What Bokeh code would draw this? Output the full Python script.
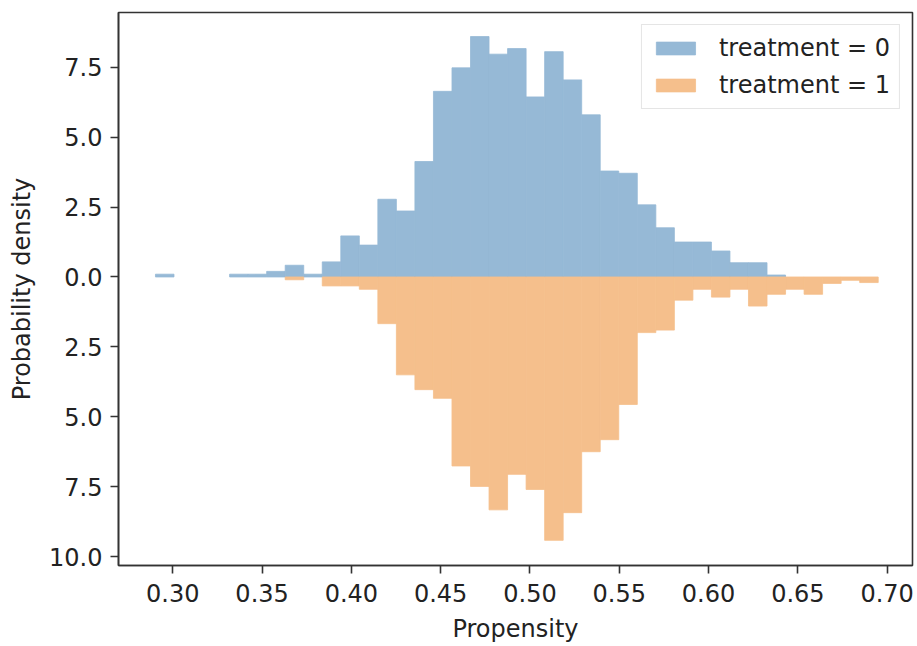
import numpy as np
from bokeh.plotting import figure
from bokeh.models import Range1d, FixedTicker, NumeralTickFormatter, CustomJSTickFormatter, ColumnDataSource
from bokeh.embed import file_html
from bokeh.resources import INLINE

# Histogram bins (shared by both groups)
bin_first = 0.2903
bin_last = 0.6950
n_bins = 39

# Density per bin, treatment = 0 (drawn upward)
density_t0 = [0.10, 0.00, 0.00, 0.00, 0.10, 0.10, 0.20, 0.42, 0.10, 0.54,
              1.47, 1.14, 2.78, 2.36, 4.13, 6.64, 7.48, 8.60, 7.97, 8.17,
              6.44, 8.06, 7.05, 5.80, 3.79, 3.71, 2.58, 1.76, 1.25, 1.25,
              0.93, 0.51, 0.51, 0.07, 0.00, 0.00, 0.00, 0.00, 0.00]

# Density per bin, treatment = 1 (drawn downward)
density_t1 = [0.00, 0.00, 0.00, 0.00, 0.00, 0.00, 0.00, 0.10, 0.00, 0.32,
              0.32, 0.44, 1.67, 3.50, 4.03, 4.34, 6.76, 7.49, 8.33, 7.06,
              7.60, 9.42, 8.43, 6.25, 5.82, 4.56, 1.99, 1.90, 0.83, 0.44,
              0.72, 0.44, 1.04, 0.62, 0.44, 0.62, 0.23, 0.12, 0.20]

x_ticks = [0.30, 0.35, 0.40, 0.45, 0.50, 0.55, 0.60, 0.65, 0.70]
y_ticks = [-10.0, -7.5, -5.0, -2.5, 0.0, 2.5, 5.0, 7.5]

labels = ["treatment = 0", "treatment = 1"]
colors = ["#96b9d6", "#f5bf8c"]

edges = np.linspace(bin_first, bin_last, n_bins + 1)
left = edges[:-1]
right = edges[1:]

d0 = np.array(density_t0)
d1 = np.array(density_t1)
m0 = d0 > 0
m1 = d1 > 0

src0 = ColumnDataSource(dict(left=left[m0], right=right[m0], top=d0[m0], bottom=np.zeros(m0.sum())))
src1 = ColumnDataSource(dict(left=left[m1], right=right[m1], top=np.zeros(m1.sum()), bottom=-d1[m1]))

FONT = "DejaVu Sans"
TXT = "#222222"
FS = "24px"

p = figure(width=917, height=646, output_backend="svg", toolbar_location=None,
           x_range=Range1d(0.2696, 0.7142), y_range=Range1d(-10.32, 9.46),
           min_border_left=118, min_border_right=5, min_border_top=12, min_border_bottom=81,
           background_fill_color="white", border_fill_color="white")

p.quad(left="left", right="right", top="top", bottom="bottom", source=src0,
       fill_color=colors[0], line_color=colors[0], line_width=0.8, legend_label=labels[0])
p.quad(left="left", right="right", top="top", bottom="bottom", source=src1,
       fill_color=colors[1], line_color=colors[1], line_width=0.8, legend_label=labels[1])

p.xgrid.visible = False
p.ygrid.visible = False

p.xaxis.ticker = FixedTicker(ticks=x_ticks)
p.xaxis.formatter = NumeralTickFormatter(format="0.00")
p.yaxis.ticker = FixedTicker(ticks=y_ticks)
p.yaxis.formatter = CustomJSTickFormatter(code="return Math.abs(tick).toFixed(1);")

p.xaxis.axis_label = "Propensity"
p.yaxis.axis_label = "Probability density"

for ax in (p.xaxis[0], p.yaxis[0]):
    ax.axis_line_color = "#333333"
    ax.axis_line_width = 1.6
    ax.major_tick_line_color = "#333333"
    ax.major_tick_line_width = 1.6
    ax.major_tick_out = 8
    ax.major_tick_in = 0
    ax.minor_tick_line_color = None
    ax.major_label_text_font = FONT
    ax.major_label_text_font_size = FS
    ax.major_label_text_color = TXT
    ax.axis_label_text_font = FONT
    ax.axis_label_text_font_size = FS
    ax.axis_label_text_color = TXT
    ax.axis_label_text_font_style = "normal"

p.xaxis.major_label_standoff = 10
p.xaxis.axis_label_standoff = 10
p.yaxis.major_label_standoff = 8
p.yaxis.axis_label_standoff = 10

p.outline_line_color = "#333333"
p.outline_line_width = 1.6

lg = p.legend[0]
lg.location = "top_right"
lg.margin = 12
lg.padding = 9
lg.spacing = 9
lg.glyph_width = 49
lg.glyph_height = 16
lg.label_standoff = 19
lg.label_text_font = FONT
lg.label_text_font_size = FS
lg.label_text_color = TXT
lg.border_line_color = "#cccccc"
lg.border_line_width = 1.2
lg.background_fill_color = "white"
lg.background_fill_alpha = 0.8

open("out.html", "w").write(file_html(p, INLINE))
